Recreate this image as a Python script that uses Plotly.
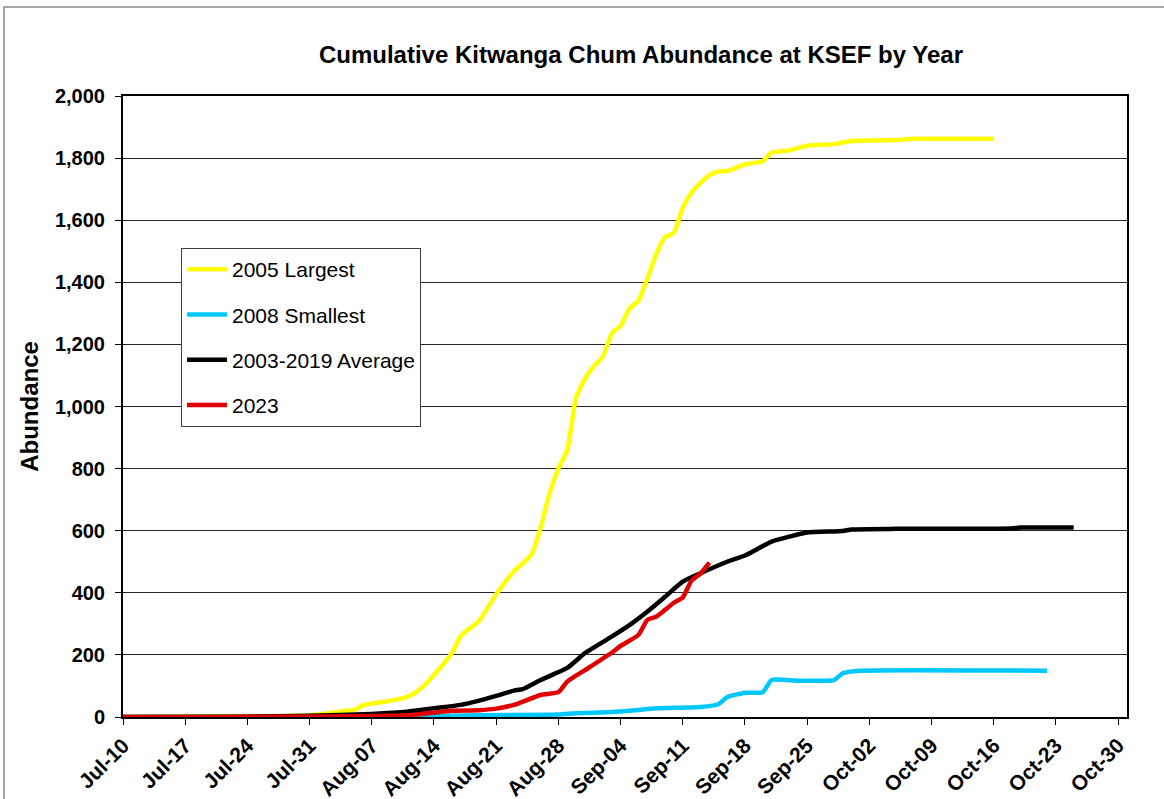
import plotly.graph_objects as go

# ---------------- data ----------------
largest_dates = ["2023-07-10", "2023-07-24", "2023-07-31", "2023-08-03", "2023-08-04", "2023-08-05",
                 "2023-08-06", "2023-08-09", "2023-08-11", "2023-08-12", "2023-08-13", "2023-08-14",
                 "2023-08-16", "2023-08-17", "2023-08-18", "2023-08-19", "2023-08-20", "2023-08-21",
                 "2023-08-23", "2023-08-24", "2023-08-25", "2023-08-26", "2023-08-27", "2023-08-28",
                 "2023-08-29", "2023-08-30", "2023-08-31", "2023-09-01", "2023-09-02", "2023-09-03",
                 "2023-09-04", "2023-09-05", "2023-09-06", "2023-09-07", "2023-09-08", "2023-09-09",
                 "2023-09-10", "2023-09-11", "2023-09-12", "2023-09-13", "2023-09-14", "2023-09-15",
                 "2023-09-16", "2023-09-18", "2023-09-20", "2023-09-21", "2023-09-23", "2023-09-25",
                 "2023-09-28", "2023-09-30", "2023-10-05", "2023-10-07", "2023-10-16"]
largest_vals = [0, 2, 6, 15, 20, 22,
                38, 52, 65, 80, 105, 135,
                206, 260, 285, 307, 350, 395,
                470, 495, 525, 610, 720, 800,
                860, 1030, 1090, 1130, 1160, 1235,
                1260, 1315, 1340, 1410, 1490, 1545,
                1560, 1640, 1690, 1720, 1745, 1757,
                1758, 1780, 1790, 1818, 1825, 1840,
                1845, 1855, 1858, 1862, 1862]

smallest_dates = ["2023-07-10", "2023-08-07", "2023-08-19", "2023-08-28", "2023-08-30", "2023-09-03",
                  "2023-09-05", "2023-09-08", "2023-09-11", "2023-09-13", "2023-09-15", "2023-09-16",
                  "2023-09-18", "2023-09-20", "2023-09-21", "2023-09-24", "2023-09-28", "2023-09-29",
                  "2023-10-01", "2023-10-22"]
smallest_vals = [0, 0, 6, 8, 12, 16,
                 20, 28, 30, 32, 41, 64,
                 78, 80, 119, 117, 119, 141,
                 149, 149]

average_dates = ["2023-07-10", "2023-07-24", "2023-07-31", "2023-08-07", "2023-08-11", "2023-08-14",
                 "2023-08-17", "2023-08-19", "2023-08-21", "2023-08-23", "2023-08-24", "2023-08-26",
                 "2023-08-29", "2023-08-31", "2023-09-03", "2023-09-05", "2023-09-07", "2023-09-09",
                 "2023-09-11", "2023-09-13", "2023-09-16", "2023-09-18", "2023-09-21", "2023-09-23",
                 "2023-09-25", "2023-09-29", "2023-09-30", "2023-10-05", "2023-10-18", "2023-10-19",
                 "2023-10-25"]
average_vals = [0, 1, 4, 10, 17, 28,
                39, 52, 68, 85, 90, 119,
                158, 206, 259, 296, 339, 387,
                436, 463, 500, 520, 565, 581,
                594, 599, 604, 606, 607, 610,
                610]

y2023_dates = ["2023-07-10", "2023-08-11", "2023-08-16", "2023-08-19", "2023-08-21", "2023-08-23",
               "2023-08-26", "2023-08-28", "2023-08-29", "2023-08-31", "2023-09-03", "2023-09-04",
               "2023-09-06", "2023-09-07", "2023-09-08", "2023-09-09", "2023-09-10", "2023-09-11",
               "2023-09-12", "2023-09-13", "2023-09-14"]
y2023_vals = [0, 6, 20, 22, 27, 39,
              71, 80, 114, 151, 207, 229,
              264, 312, 323, 345, 368, 385,
              440, 462, 497]

series_names = ["2005 Largest", "2008 Smallest", "2003-2019 Average", "2023"]
series_colors = ["#FFFF00", "#00C8FF", "#000000", "#E00000"]

tick_dates = ["2023-07-10", "2023-07-17", "2023-07-24", "2023-07-31", "2023-08-07", "2023-08-14",
              "2023-08-21", "2023-08-28", "2023-09-04", "2023-09-11", "2023-09-18", "2023-09-25",
              "2023-10-02", "2023-10-09", "2023-10-16", "2023-10-23", "2023-10-30"]
x_range = ["2023-07-10", "2023-10-31"]
y_ticks = list(range(0, 2001, 200))

# ---------------- figure ----------------
FONT = "Arial, 'Liberation Sans', sans-serif"
W, H = 1164, 799
L, R, T, B = 123, 37, 96, 82
PW, PH = W - L - R, H - T - B

fig = go.Figure()
all_x = [largest_dates, smallest_dates, average_dates, y2023_dates]
all_y = [largest_vals, smallest_vals, average_vals, y2023_vals]
for i, (xs, ys) in enumerate(zip(all_x, all_y)):
    fig.add_trace(go.Scatter(
        x=xs, y=ys, mode="lines", name=series_names[i],
        legendgroup=f"g{i}",
        line=dict(color=series_colors[i], width=4.5, shape="spline", smoothing=0.5),
    ))

def px_x(p):
    return (p - L) / PW

def px_y(p):
    return (H - B - p) / PH

fig.update_layout(
    width=W, height=H,
    margin=dict(l=L, r=R, t=T, b=B, autoexpand=False),
    paper_bgcolor="white", plot_bgcolor="white",
    font=dict(family=FONT, color="black"),
    title=dict(text="<b>Cumulative Kitwanga Chum Abundance at KSEF by Year</b>",
               font=dict(size=24, family=FONT, color="black"),
               x=641 / W, xref="container", xanchor="center",
               y=1 - 55 / H, yref="container", yanchor="middle"),
    showlegend=True,
    legend=dict(x=px_x(181), y=px_y(248), xanchor="left", yanchor="top",
                bgcolor="white", bordercolor="#404040", borderwidth=1,
                font=dict(size=21, family=FONT, color="black"),
                itemwidth=40, tracegroupgap=15, traceorder="grouped"),
    shapes=[dict(type="rect", xref="paper", yref="paper",
                 x0=px_x(4), x1=px_x(1180), y0=px_y(815), y1=px_y(7),
                 line=dict(color="#8a8a8a", width=1.5), fillcolor="rgba(0,0,0,0)",
                 layer="below")],
)

fig.update_xaxes(
    type="date", range=x_range,
    tickmode="array", tickvals=tick_dates, tickformat="%b-%d",
    tickangle=-45, tickfont=dict(size=21, family=FONT, color="black", weight="bold"),
    ticks="outside", ticklen=6, tickcolor="black", tickwidth=1,
    showline=True, linecolor="black", linewidth=2, mirror=True,
    showgrid=False, zeroline=False,
)
fig.update_yaxes(
    range=[0, 2000], tickmode="array", tickvals=y_ticks, tickformat=",d",
    tickfont=dict(size=20, family=FONT, color="black", weight="bold"),
    ticks="outside", ticklen=6, tickcolor="black", tickwidth=1, ticklabelstandoff=6,
    showline=True, linecolor="black", linewidth=2, mirror=True,
    showgrid=True, gridcolor="#262626", gridwidth=1, zeroline=False,
    title=dict(text="<b>Abundance</b>", font=dict(size=24, family=FONT, color="black"),
               standoff=10),
)

# remove the default page margin so the figure sits at the window's top-left corner
fig.write_html("out.html",
               config={"displayModeBar": False},
               post_script="document.body.style.margin='0';document.body.style.overflow='hidden';")
